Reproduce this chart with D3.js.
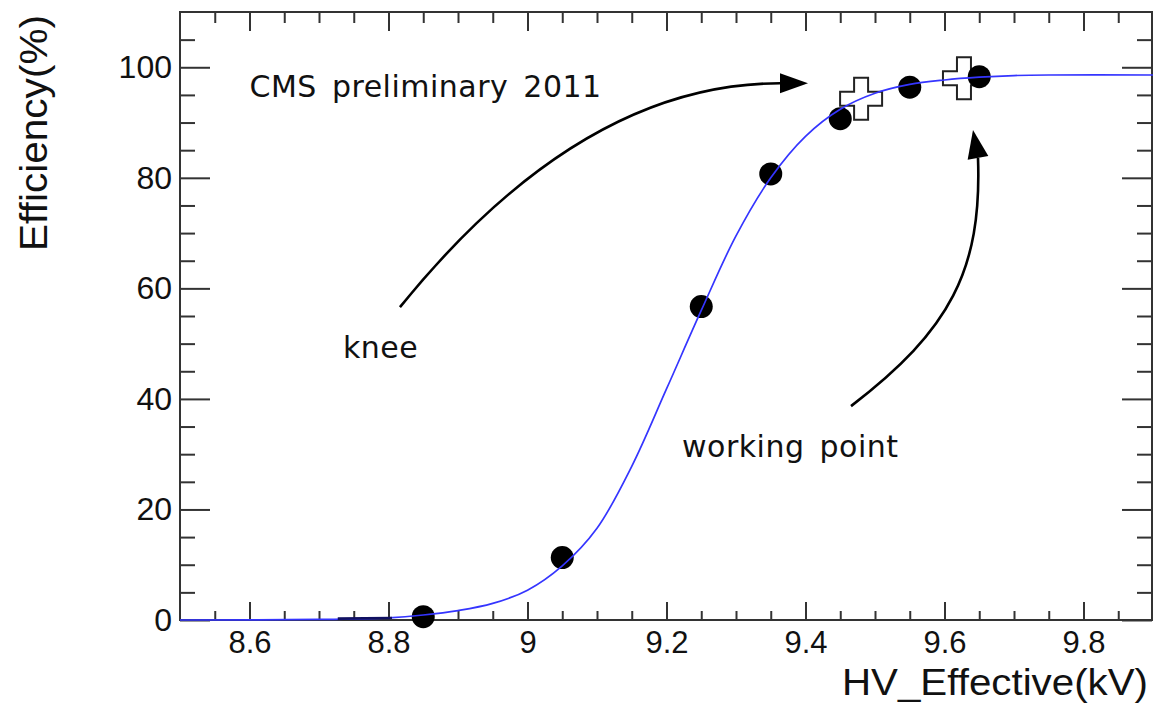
<!DOCTYPE html>
<html>
<head>
<meta charset="utf-8">
<script src="https://cdn.jsdelivr.net/npm/d3@7"></script>
<style>
  body { margin: 0; background: #fff; }
  svg { display: block; }
</style>
</head>
<body>
<svg id="chart" width="1153" height="704"></svg>
<script>
// Measured efficiency points (filled circles)
const hvMeasured  = [8.85, 9.05, 9.25, 9.35, 9.45, 9.55, 9.65];
const effMeasured = [0.6, 11.3, 56.7, 80.7, 90.7, 96.4, 98.3];

// Knee and working point markers (open crosses)
const hvOpen  = [9.48, 9.628];
const effOpen = [94.3, 98.0];

// Sigmoid fit curve, sampled
const hvFit  = [8.50, 8.70, 8.80, 8.85, 8.90, 8.95, 9.00, 9.05, 9.10, 9.15, 9.20, 9.25,
                9.30, 9.35, 9.40, 9.45, 9.50, 9.55, 9.60, 9.65, 9.70, 9.75, 9.90];
const effFit = [0.0, 0.1, 0.4, 0.9, 1.7, 3.0, 5.4, 9.8, 16.6, 27.8, 41.8, 56.0,
                69.5, 80.0, 87.5, 92.4, 95.3, 96.9, 97.7, 98.2, 98.5, 98.6, 98.6];

// Short darker segment of the fit near the threshold
const hvTail  = [8.727, 8.805];
const effTail = [0.25, 0.35];

// Axis ticks
const xTickValues = [8.6, 8.8, 9.0, 9.2, 9.4, 9.6, 9.8];
const xTickLabels = ["8.6", "8.8", "9", "9.2", "9.4", "9.6", "9.8"];
const yTickValues = [0, 20, 40, 60, 80, 100];
const yTickLabels = ["0", "20", "40", "60", "80", "100"];

// Annotations (data coordinates)
const kneeArrowPts = [[8.8165, 56.6], [9.077, 97.1], [9.3633, 97.1]];
const kneeArrowTip = [9.4036, 97.1];
const workArrowPts = [[9.4655, 38.7], [9.608, 52.4], [9.654, 63.3], [9.6482, 83.6]];
const workArrowTip = [9.641, 88.65];
const labelTexts = ["CMS preliminary 2011", "knee", "working point"];
const labelPos   = [[8.6, 94.6], [8.7345, 47.4], [9.2223, 29.5]];

const svg = d3.select("#chart");
const plotLeft = 180, plotRight = 1153, plotTop = 12, plotBottom = 620;

const x = d3.scaleLinear().domain([8.5, 9.9]).range([plotLeft, plotRight]);
const y = d3.scaleLinear().domain([0, 110]).range([plotBottom, plotTop]);

const frameColor = "#333";
const tickFont = "'Liberation Sans', Arial, Helvetica, sans-serif";

const xMinor = d3.range(8.55, 9.9, 0.05).map(v => +v.toFixed(2))
  .filter(v => !xTickValues.some(t => Math.abs(t - v) < 1e-6));
const yMinor = d3.range(5, 110, 5).filter(v => v % 20 !== 0);

function styleAxis(g) {
  g.select(".domain").remove();
  g.selectAll(".tick line").attr("stroke", frameColor).attr("stroke-width", 2);
  g.selectAll("text").attr("fill", "#111").style("font-family", tickFont).style("font-size", "32px");
}

// bottom axis
svg.append("g").attr("transform", `translate(0,${plotBottom})`)
  .call(d3.axisBottom(x).tickValues(xTickValues).tickSize(-18).tickPadding(11)
    .tickFormat((d, i) => xTickLabels[i]))
  .call(styleAxis)
  .call(g => g.selectAll("text").style("font-size", "31px"));
svg.append("g").attr("transform", `translate(0,${plotBottom})`)
  .call(d3.axisBottom(x).tickValues(xMinor).tickSize(-9).tickFormat(""))
  .call(styleAxis);
// top axis
svg.append("g").attr("transform", `translate(0,${plotTop})`)
  .call(d3.axisTop(x).tickValues(xTickValues).tickSize(-19).tickFormat(""))
  .call(styleAxis);
svg.append("g").attr("transform", `translate(0,${plotTop})`)
  .call(d3.axisTop(x).tickValues(xMinor).tickSize(-11).tickFormat(""))
  .call(styleAxis);
// left axis
svg.append("g").attr("transform", `translate(${plotLeft},0)`)
  .call(d3.axisLeft(y).tickValues(yTickValues).tickSize(-30).tickPadding(8)
    .tickFormat((d, i) => yTickLabels[i]))
  .call(styleAxis);
svg.append("g").attr("transform", `translate(${plotLeft},0)`)
  .call(d3.axisLeft(y).tickValues(yMinor).tickSize(-15).tickFormat(""))
  .call(styleAxis);
// right axis
svg.append("g").attr("transform", `translate(${plotRight - 1},0)`)
  .call(d3.axisRight(y).tickValues(yTickValues).tickSize(-30).tickFormat(""))
  .call(styleAxis);
svg.append("g").attr("transform", `translate(${plotRight - 1},0)`)
  .call(d3.axisRight(y).tickValues(yMinor).tickSize(-15).tickFormat(""))
  .call(styleAxis);

// frame
svg.append("rect")
  .attr("x", plotLeft).attr("y", plotTop)
  .attr("width", plotRight - 1 - plotLeft).attr("height", plotBottom - plotTop)
  .attr("fill", "none").attr("stroke", frameColor).attr("stroke-width", 2);

// open crosses
const cross = d3.symbol().type(d3.symbolCross).size(980);
svg.append("g").selectAll("path").data(hvOpen).join("path")
  .attr("d", cross)
  .attr("transform", (d, i) => `translate(${x(d)},${y(effOpen[i])})`)
  .attr("fill", "none").attr("stroke", "#222").attr("stroke-width", 2);

// measured points
svg.append("g").selectAll("circle").data(hvMeasured).join("circle")
  .attr("cx", d => x(d))
  .attr("cy", (d, i) => y(effMeasured[i]))
  .attr("r", 11.5)
  .attr("fill", "#000");

// fit curve
const fitLine = d3.line().x(d => x(d[0])).y(d => y(d[1])).curve(d3.curveCatmullRom.alpha(0.5));
svg.append("path")
  .attr("d", fitLine(hvFit.map((v, i) => [v, effFit[i]])))
  .attr("fill", "none").attr("stroke", "#3535ff").attr("stroke-width", 1.7);
svg.append("path")
  .attr("d", fitLine(hvTail.map((v, i) => [v, effTail[i]])))
  .attr("fill", "none").attr("stroke", "#101060").attr("stroke-width", 2.6);

// arrows
function drawArrow(pts, tip, halfW) {
  const p = pts.map(d => [x(d[0]), y(d[1])]);
  const path = d3.path();
  path.moveTo(p[0][0], p[0][1]);
  if (p.length === 3) path.quadraticCurveTo(p[1][0], p[1][1], p[2][0], p[2][1]);
  else path.bezierCurveTo(p[1][0], p[1][1], p[2][0], p[2][1], p[3][0], p[3][1]);
  svg.append("path").attr("d", path.toString())
    .attr("fill", "none").attr("stroke", "#000").attr("stroke-width", 2.6);
  const end = p[p.length - 1];
  const t = [x(tip[0]), y(tip[1])];
  const dx = t[0] - end[0], dy = t[1] - end[1];
  const len = Math.hypot(dx, dy);
  const nx = -dy / len * halfW, ny = dx / len * halfW;
  svg.append("path")
    .attr("d", `M${t[0]},${t[1]}L${end[0] + nx},${end[1] + ny}L${end[0] - nx},${end[1] - ny}Z`)
    .attr("fill", "#000");
}
drawArrow(kneeArrowPts, kneeArrowTip, 10);
drawArrow(workArrowPts, workArrowTip, 10.5);

// annotation text
svg.append("g").selectAll("text").data(labelTexts).join("text")
  .attr("x", (d, i) => x(labelPos[i][0]))
  .attr("y", (d, i) => y(labelPos[i][1]))
  .text(d => d)
  .style("font-family", "'DejaVu Sans', sans-serif")
  .style("font-size", "30px")
  .style("letter-spacing", "0.5px")
  .style("word-spacing", "5px")
  .attr("fill", "#111");

// axis titles
svg.append("text")
  .attr("x", 1148).attr("y", 695)
  .attr("text-anchor", "end")
  .attr("textLength", 306).attr("lengthAdjust", "spacingAndGlyphs")
  .style("font-family", tickFont).style("font-size", "37px")
  .attr("fill", "#111")
  .text("HV_Effective(kV)");
svg.append("text")
  .attr("transform", "translate(47,251) rotate(-90)")
  .attr("text-anchor", "start")
  .attr("textLength", 236).attr("lengthAdjust", "spacingAndGlyphs")
  .style("font-family", tickFont).style("font-size", "39px")
  .attr("fill", "#111")
  .text("Efficiency(%)");
</script>
</body>
</html>
